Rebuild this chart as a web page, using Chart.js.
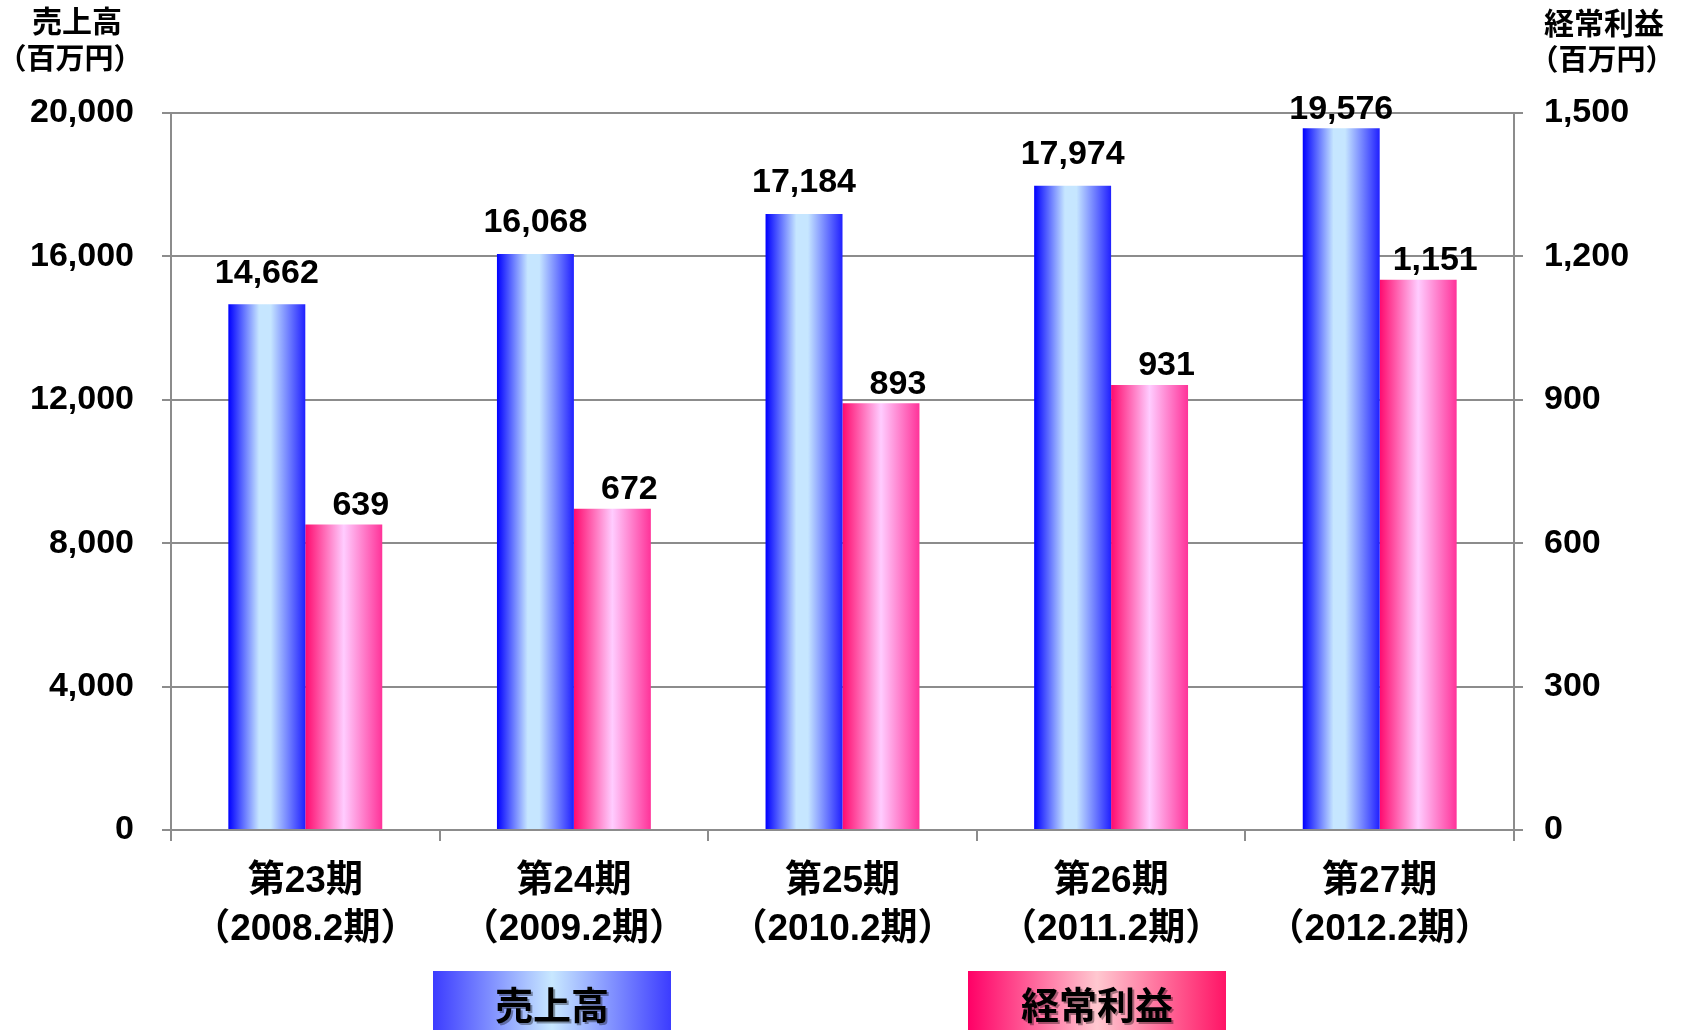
<!DOCTYPE html>
<html lang="ja">
<head>
<meta charset="utf-8">
<script src="https://cdn.jsdelivr.net/npm/chart.js@4.4.0/dist/chart.umd.min.js"></script>
<style>
  html, body { margin: 0; padding: 0; background: #fff; }
  #wrap { width: 1688px; height: 1030px; }
</style>
</head>
<body>
<div id="wrap"><canvas id="salesChart" width="1688" height="1030"></canvas></div>
<script>
// data
const periods = [
    ['第23期', '（2008.2期）'],
    ['第24期', '（2009.2期）'],
    ['第25期', '（2010.2期）'],
    ['第26期', '（2011.2期）'],
    ['第27期', '（2012.2期）']
];
const sales = [14662, 16068, 17184, 17974, 19576];
const profit = [639, 672, 893, 931, 1151];
const seriesNames = ['売上高', '経常利益'];
const leftTicks = [0, 4000, 8000, 12000, 16000, 20000];
const rightTicks = [0, 300, 600, 900, 1200, 1500];

const FONT = "'Liberation Sans', 'Noto Sans CJK JP', sans-serif";
const GRID = '#8c8c8c';
const CAT_PCT = 0.573;

// colour stops for the bar gradients (left -> right)
const blueStops = [[0, '#0000ff'], [0.4, '#c6e6ff'], [0.55, '#c6e6ff'], [1, '#2020ff']];
const pinkStops = [[0, '#ff0a6e'], [0.5, '#ffccff'], [1, '#ff3399']];

function barGradient(context) {
    const chart = context.chart;
    const xs = chart.scales.x;
    if (!xs || context.dataIndex === undefined) return '#888';
    const catW = xs.width / periods.length;
    const barW = catW * CAT_PCT / 2;
    const centre = xs.getPixelForValue(context.dataIndex);
    const left = centre - catW * CAT_PCT / 2 + context.datasetIndex * barW;
    if (!Number.isFinite(left) || !Number.isFinite(barW) || barW <= 0) return '#888';
    const g = chart.ctx.createLinearGradient(left, 0, left + barW, 0);
    const stops = context.datasetIndex === 0 ? blueStops : pinkStops;
    stops.forEach(s => g.addColorStop(s[0], s[1]));
    return g;
}

function fmt(v) {
    return v.toLocaleString('en-US');
}

// value labels above the bars
const valueLabels = {
    id: 'valueLabels',
    afterDatasetsDraw(chart) {
        const ctx = chart.ctx;
        ctx.save();
        ctx.font = 'bold 34px ' + FONT;
        ctx.fillStyle = '#000';
        ctx.textAlign = 'center';
        ctx.textBaseline = 'bottom';
        chart.data.datasets.forEach((ds, di) => {
            const meta = chart.getDatasetMeta(di);
            meta.data.forEach((bar, i) => {
                const gap = di === 0 ? 14 : 2;
                const dx = di === 0 ? 0 : 17;
                let y = bar.y - gap;
                if (y < 127) y = 127;
                ctx.fillText(fmt(ds.data[i]), bar.x + dx, y);
            });
        });
        ctx.restore();
    }
};

// axis titles at the top corners
const axisTitles = {
    id: 'axisTitles',
    afterDraw(chart) {
        const ctx = chart.ctx;
        ctx.save();
        ctx.fillStyle = '#000';
        ctx.textAlign = 'center';
        ctx.textBaseline = 'middle';
        ctx.font = 'bold 30px ' + FONT;
        ctx.fillText('売上高', 77, 24);
        ctx.fillText('経常利益', 1604, 26);
        ctx.font = 'bold 29px ' + FONT;
        ctx.fillText('（百万円）', 70, 61);
        ctx.fillText('（百万円）', 1602, 62);
        ctx.restore();
    }
};

// legend boxes at the bottom
const boxLegend = {
    id: 'boxLegend',
    afterDraw(chart) {
        const ctx = chart.ctx;
        const a = chart.chartArea;
        const boxes = [
            { x: a.left + 262, w: 238, stops: [[0, '#3c3cff'], [0.5, '#c8e8ff'], [1, '#3c3cff']] },
            { x: a.left + 797, w: 258, stops: [[0, '#ff0066'], [0.5, '#ffc8d0'], [1, '#ff1466']] }
        ];
        ctx.save();
        boxes.forEach((b, i) => {
            const g = ctx.createLinearGradient(b.x, 0, b.x + b.w, 0);
            b.stops.forEach(s => g.addColorStop(s[0], s[1]));
            ctx.fillStyle = g;
            ctx.fillRect(b.x, 971, b.w, 70);
            ctx.font = 'bold 38px ' + FONT;
            ctx.textAlign = 'center';
            ctx.textBaseline = 'middle';
            ctx.fillStyle = 'rgba(0,0,0,0.35)';
            ctx.fillText(chart.data.datasets[i].label, b.x + b.w / 2 + 2, 1011);
            ctx.fillStyle = '#000';
            ctx.fillText(chart.data.datasets[i].label, b.x + b.w / 2, 1009);
        });
        ctx.restore();
    }
};

const ctx = document.getElementById('salesChart').getContext('2d');
const chart = new Chart(ctx, {
    type: 'bar',
    data: {
        labels: periods,
        datasets: [{
            label: seriesNames[0],
            data: sales,
            yAxisID: 'y',
            backgroundColor: barGradient,
            borderWidth: 0,
            categoryPercentage: CAT_PCT,
            barPercentage: 1
        }, {
            label: seriesNames[1],
            data: profit,
            yAxisID: 'y1',
            backgroundColor: barGradient,
            borderWidth: 0,
            categoryPercentage: CAT_PCT,
            barPercentage: 1
        }]
    },
    options: {
        responsive: false,
        animation: false,
        devicePixelRatio: 1,
        layout: { padding: { top: 113, left: 0, right: 0, bottom: 0 } },
        plugins: {
            legend: { display: false },
            tooltip: { enabled: false }
        },
        scales: {
            x: {
                grid: { drawOnChartArea: false, color: GRID, lineWidth: 2, tickLength: 11 },
                border: { color: GRID, width: 2 },
                ticks: {
                    color: '#000',
                    font: { family: FONT, size: 37, weight: 'bold', lineHeight: 1.3 },
                    padding: 17,
                    maxRotation: 0,
                    autoSkip: false
                },
                afterFit(scale) { scale.height = 200; }
            },
            y: {
                position: 'left',
                min: 0,
                max: 20000,
                afterBuildTicks(scale) { scale.ticks = leftTicks.map(v => ({ value: v })); },
                grid: { color: GRID, lineWidth: 2, tickLength: 9 },
                border: { color: GRID, width: 2 },
                ticks: {
                    color: '#000',
                    font: { family: FONT, size: 34, weight: 'bold' },
                    padding: 28,
                    callback: v => fmt(v)
                },
                afterFit(scale) { scale.width = 171; }
            },
            y1: {
                position: 'right',
                min: 0,
                max: 1500,
                afterBuildTicks(scale) { scale.ticks = rightTicks.map(v => ({ value: v })); },
                grid: { drawOnChartArea: false, color: GRID, lineWidth: 2, tickLength: 9 },
                border: { color: GRID, width: 2 },
                ticks: {
                    color: '#000',
                    font: { family: FONT, size: 34, weight: 'bold' },
                    padding: 21,
                    callback: v => fmt(v)
                },
                afterFit(scale) { scale.width = 174; }
            }
        }
    },
    plugins: [valueLabels, axisTitles, boxLegend]
});
</script>
</body>
</html>
